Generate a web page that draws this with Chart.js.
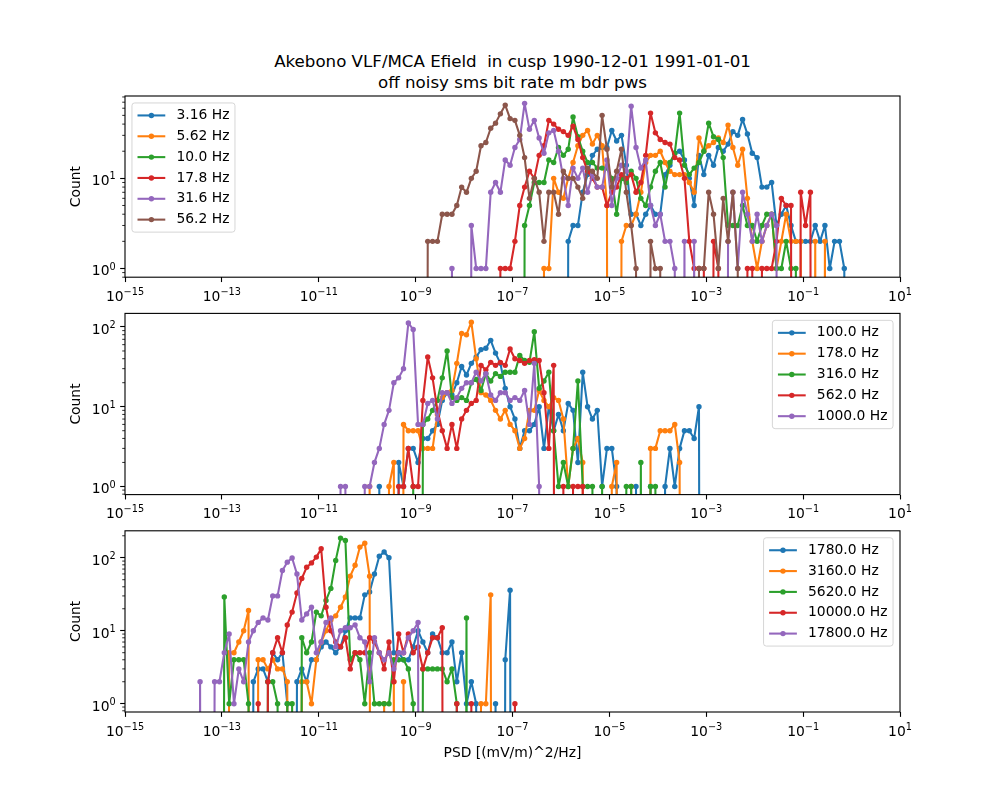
<!DOCTYPE html>
<html>
<head>
<meta charset="utf-8">
<script src="https://cdn.jsdelivr.net/npm/chart.js@4.4.0/dist/chart.umd.min.js"></script>
<style>
html,body{margin:0;padding:0;background:#fff;}
#fig{position:relative;width:1000px;height:800px;background:#fff;overflow:hidden;font-family:'DejaVu Sans';}
#fig canvas{position:absolute;left:0;}
#title{position:absolute;left:125px;width:775px;top:51px;text-align:center;font-family:'DejaVu Sans';font-size:16.67px;line-height:21px;color:#000;white-space:pre;}
</style>
</head>
<body>
<div id="fig">
<div id="title">Akebono VLF/MCA Efield  in cusp 1990-12-01 1991-01-01
off noisy sms bit rate m bdr pws</div>
<canvas id="c1"></canvas>
<canvas id="c2"></canvas>
<canvas id="c3"></canvas>
</div>
<script>
// ---------------- data ----------------
const BIN_DECADES = 0.1;      // width of one PSD histogram bin, in decades
const ZERO_FLOOR = 1e-30;     // empty bins are clipped far below the log axis (as matplotlib does)
const xTickExponents = [-15, -13, -11, -9, -7, -5, -3, -1, 1];
const COLORS = ['#1f77b4', '#ff7f0e', '#2ca02c', '#d62728', '#9467bd', '#8c564b'];

// Panel 1 (log10 of the PSD bin centre of the first value in each list)
const p1Labels = ['3.16 Hz', '5.62 Hz', '10.0 Hz', '17.8 Hz', '31.6 Hz', '56.2 Hz'];
const p1FirstBin = [-5.95, -6.45, -6.85, -7.35, -8.35, -8.85];
const p1_3_16 = [0,2,3,3,7,11,18,21,22,22,34,26,30,14,4,4,3,4,5,4,4,11,14,19,20,16,10,5,18,11,18,14,22,20,24,33,30,45,31,19,17,8,8,9,3,4,5,3,2,2,2,2,3,2,3,1,2,2,1,0];
const p1_5_62 = [0,1,1,10,7,6,10,15,23,30,34,24,30,23,5,0,0,2,3,3,4,7,15,18,18,20,15,12,11,11,11,9,7,28,20,23,25,28,25,39,22,14,21,6,2,1,2,3,4,1,2,4,2,2,2,0,0,2,0,2,0];
const p1_10_0 = [0,3,5,9,9,9,16,15,22,18,21,48,29,20,15,15,13,13,13,10,4,10,9,12,10,6,5,8,12,15,8,15,19,53,14,11,13,15,20,41,29,27,17,3,3,3,5,3,3,2,3,4,4,1,1,2,1,1,0];
const p1_17_8 = [0,1,1,1,2,5,8,12,10,18,23,44,40,35,33,30,38,27,17,12,10,8,8,5,7,8,11,10,11,7,9,18,53,32,27,25,24,17,16,10,2,1,1,1,0,2,1,0,0,0,0,0,1,1,0,1,1,1,2,6,5,5,0,7,3,7,0];
const p1_31_6 = [0,1,0,0,0,3,1,1,1,7,9,7,16,14,22,27,68,35,44,28,19,32,34,20,10,5,13,10,13,7,11,8,8,16,5,10,14,12,63,22,13,16,5,3,4,2,2,1,0,2,0,2,0,0,0,0,0,0,2,7,1,7,4,2,4,2,3,4,3,0];
const p1_56_2 = [0,2,2,2,4,4,4,5,8,7,10,12,23,25,36,41,52,65,46,44,30,17,6,10,7,2,7,7,4,12,10,10,8,6,13,12,10,50,21,8,12,21,7,3,1,0,0,2,1,1,0,0,0,0,0,0,0,1,1,7,4,1,6,2,7,1,0];

// Panel 2
const p2Labels = ['100.0 Hz', '178.0 Hz', '316.0 Hz', '562.0 Hz', '1000.0 Hz'];
const p2FirstBin = [-9.85, -10.05, -9.15, -9.45, -10.65];
const p2_100 = [0,1,0,0,0,2,1,3,3,2,4,4,5,6,12,15,14,20,32,25,35,42,52,54,68,47,35,17,10,7,3,5,5,6,10,3,10,5,8,5,11,9,2,27,10,7,9,1,3,3,1,0,0,0,1,0,0,1,0,0,1,3,1,3,5,5,4,10,0];
const p2_178 = [0,1,0,0,0,1,2,0,6,5,5,5,3,3,3,8,13,15,16,35,83,80,115,40,15,14,12,9,7,9,6,5,3,4,9,9,16,12,10,13,12,7,1,3,4,2,0,0,0,0,0,1,2,0,0,1,0,0,0,3,3,5,5,5,6,2,0];
const p2_316 = [0,1,0,6,7,9,12,23,50,13,12,13,12,20,22,16,26,21,26,24,27,27,27,44,38,36,87,17,21,27,5,1,2,1,3,21,1,1,1,0,1,0,0,0,0,1,1,0,2,0,1,1,0];
const p2_562 = [0,1,1,3,1,1,12,42,23,9,5,3,6,3,7,9,11,12,33,29,36,33,36,33,53,40,38,35,38,39,38,15,3,33,0,1,0,1,1,1,0];
const p2_1000 = [0,1,1,0,0,0,1,1,2,3,6,9,20,23,30,112,93,6,6,11,12,7,15,15,11,13,17,20,20,27,21,26,14,12,15,15,12,13,12,16,6,35,1,0];

// Panel 3
const p3Labels = ['1780.0 Hz', '3160.0 Hz', '5620.0 Hz', '10000.0 Hz', '17800.0 Hz'];
const p3FirstBin = [-12.45, -12.95, -13.05, -12.35, -13.55];
const p3_1780 = [0,2,3,3,2,5,4,5,1,0,2,3,2,4,4,6,7,6,5,6,10,15,15,15,31,34,60,105,120,100,5,5,4,4,6,10,7,5,9,8,5,5,7,2,5,1,2,1,0,0,0,1,0,4,36,0];
const p3_3160 = [0,5,5,7,10,19,0,4,4,3,4,3,3,2,0,0,2,2,1,4,7,10,14,16,21,29,56,79,140,158,56,0,0,1,0,2,0,2, 0,0,0,0,0, 0,0,0,0,0, 0,0,0,0,0, 1,1,31,0];
const p3_5620 = [0,29,1,4,4,4,1,0,0,0,2,2,1,0,1,1,0,8,5,7,18,16,26,38,92,186,172,4,5,4,1,5,1,1,1,1,4,4,4,3,1,0,3,3,3,3,3,2,3,1,0,15,0];
const p3_10000 = [0,1,0,2,5,8,5,12,18,33,52,74,85,102,133,21,10,7,6,8,3,5,5,5,8,7,5,3,7,2,9,5,9,5,6,3,5,8,8,11,0,0,1,0,0,1,0,0,0,0,0,0,0,0,1,0];
const p3_17800 = [0,2,0,0,2,2,5,9,1,3,2,7,10,13,15,14,30,30,67,87,99,60,14,17,21,5,7,13,15,6,10,11,11,12,8,7,2,8,5,4,5,3,5,5,8,10,13,0];

// ---------------- rendering ----------------
const FONT = 'DejaVu Sans';
const FS = 13.89;

function makeDatasets(labels, firstBins, seriesList) {
  return seriesList.map((counts, k) => ({
    label: labels[k],
    data: counts.map((c, i) => ({ x: Math.pow(10, firstBins[k] + BIN_DECADES * i), y: c > 0 ? c : ZERO_FLOOR })),
    borderColor: COLORS[k],
    backgroundColor: COLORS[k],
    pointBackgroundColor: COLORS[k],
    borderWidth: 2.08,
    borderJoinStyle: 'round',
    borderCapStyle: 'round',
    pointRadius: ctx => (ctx.raw && ctx.raw.y >= 1 ? 2.7 : 0),
    pointBorderWidth: 0,
    pointHoverRadius: 0,
    tension: 0,
    fill: false,
    order: seriesList.length - k
  }));
}

// "10" with a raised, smaller exponent (mathtext-like); y is the baseline of "10"
function drawPowLabel(ctx, value, x, y, align) {
  const e = Math.round(Math.log10(value));
  const base = '10';
  const expo = String(e).replace('-', '\u2212');
  ctx.font = FS + 'px "' + FONT + '"';
  const wb = ctx.measureText(base).width;
  ctx.font = (FS * 0.7) + 'px "' + FONT + '"';
  const we = ctx.measureText(expo).width;
  const total = wb + we;
  const x0 = align === 'center' ? x - total / 2 : x - total;
  ctx.textAlign = 'left';
  ctx.textBaseline = 'alphabetic';
  ctx.fillStyle = '#000';
  ctx.font = FS + 'px "' + FONT + '"';
  ctx.fillText(base, x0, y);
  ctx.font = (FS * 0.7) + 'px "' + FONT + '"';
  ctx.fillText(expo, x0 + wb, y - 0.425 * FS);
}

function roundRectPath(ctx, x, y, w, h, r) {
  ctx.beginPath();
  ctx.moveTo(x + r, y);
  ctx.lineTo(x + w - r, y);
  ctx.arcTo(x + w, y, x + w, y + r, r);
  ctx.lineTo(x + w, y + h - r);
  ctx.arcTo(x + w, y + h, x + w - r, y + h, r);
  ctx.lineTo(x + r, y + h);
  ctx.arcTo(x, y + h, x, y + h - r, r);
  ctx.lineTo(x, y + r);
  ctx.arcTo(x, y, x + r, y, r);
  ctx.closePath();
}

const framePlugin = {
  id: 'mplFrame',
  afterDatasetsDraw(chart) {
    const ctx = chart.ctx, ca = chart.chartArea, ys = chart.scales.y, xs = chart.scales.x;
    ctx.save();
    // minor ticks on the log y axis
    ctx.strokeStyle = '#000';
    ctx.lineWidth = 0.83;
    for (let d = -1; d <= 3; d++) {
      for (let m = 2; m <= 9; m++) {
        const v = m * Math.pow(10, d);
        if (v < ys.min || v > ys.max) continue;
        const py = ys.getPixelForValue(v);
        ctx.beginPath();
        ctx.moveTo(ca.left, py);
        ctx.lineTo(ca.left - 2.78, py);
        ctx.stroke();
      }
    }
    // spines
    ctx.lineWidth = 1.11;
    ctx.strokeRect(ca.left, ca.top, ca.right - ca.left, ca.bottom - ca.top);
    // tick labels, placed from the scales' own ticks
    xs.ticks.forEach(t => drawPowLabel(ctx, t.value, xs.getPixelForValue(t.value), ca.bottom + 23.7, 'center'));
    ys.ticks.forEach(t => drawPowLabel(ctx, t.value, ca.left - 9.3, ys.getPixelForValue(t.value) + 7, 'right'));
    ctx.restore();
  }
};

const legendPlugin = {
  id: 'mplLegend',
  afterDraw(chart, args, opts) {
    const ctx = chart.ctx, ca = chart.chartArea, ds = chart.data.datasets;
    ctx.save();
    ctx.font = FS + 'px "' + FONT + '"';
    const tw = Math.max(...ds.map(d => ctx.measureText(d.label).width));
    const pad = 0.4 * FS, hl = 2 * FS, htp = 0.8 * FS, ls = 0.5 * FS, bap = 0.5 * FS;
    const w = pad + hl + htp + tw + pad;
    const h = 2 * pad + ds.length * FS + (ds.length - 1) * ls;
    const x0 = opts.loc === 'upper left' ? ca.left + bap : ca.right - bap - w;
    const y0 = ca.top + bap;
    roundRectPath(ctx, x0, y0, w, h, 0.2 * FS);
    ctx.fillStyle = 'rgba(255,255,255,0.8)';
    ctx.fill();
    ctx.strokeStyle = 'rgba(204,204,204,0.8)';
    ctx.lineWidth = 1;
    ctx.stroke();
    ds.forEach((d, i) => {
      const cy = y0 + pad + FS / 2 + i * (FS + ls);
      ctx.strokeStyle = d.borderColor;
      ctx.lineWidth = 2.08;
      ctx.beginPath();
      ctx.moveTo(x0 + pad, cy);
      ctx.lineTo(x0 + pad + hl, cy);
      ctx.stroke();
      ctx.fillStyle = d.borderColor;
      ctx.beginPath();
      ctx.arc(x0 + pad + hl / 2, cy, 2.7, 0, 2 * Math.PI);
      ctx.fill();
      ctx.fillStyle = '#000';
      ctx.textAlign = 'left';
      ctx.textBaseline = 'middle';
      ctx.fillText(d.label, x0 + pad + hl + htp, cy);
    });
    ctx.restore();
  }
};

const panels = [
  { id: 'c1', labels: p1Labels, first: p1FirstBin, series: [p1_3_16, p1_5_62, p1_10_0, p1_17_8, p1_31_6, p1_56_2],
    yMin: 0.8, yMax: 82, yTicks: [1, 10], loc: 'upper left', top: 82, padTop: 14, height: 232, xTitle: '' },
  { id: 'c2', labels: p2Labels, first: p2FirstBin, series: [p2_100, p2_178, p2_316, p2_562, p2_1000],
    yMin: 0.79, yMax: 148, yTicks: [1, 10, 100], loc: 'upper right', top: 299, padTop: 14.4, height: 232, xTitle: '' },
  { id: 'c3', labels: p3Labels, first: p3FirstBin, series: [p3_1780, p3_3160, p3_5620, p3_10000, p3_17800],
    yMin: 0.77, yMax: 234, yTicks: [1, 10, 100], loc: 'upper right', top: 517, padTop: 13.8, height: 249, xTitle: 'PSD [(mV/m)^2/Hz]' }
];

const AXIS_H = 181.2;
const tickFont = { family: FONT, size: FS };

panels.forEach(p => {
  const cv = document.getElementById(p.id);
  cv.width = 1000;
  cv.height = p.height;
  cv.style.top = p.top + 'px';
  const xH = p.height - p.padTop - AXIS_H;
  new Chart(cv.getContext('2d'), {
    type: 'line',
    data: { datasets: makeDatasets(p.labels, p.first, p.series) },
    plugins: [framePlugin, legendPlugin],
    options: {
      responsive: false,
      devicePixelRatio: 1,
      animation: false,
      events: [],
      layout: { autoPadding: false, padding: { left: 64, right: 100, top: p.padTop, bottom: 0 } },
      plugins: {
        legend: { display: false },
        tooltip: { enabled: false },
        mplLegend: { loc: p.loc }
      },
      scales: {
        x: {
          type: 'logarithmic',
          position: 'bottom',
          min: 1e-15,
          max: 10,
          afterBuildTicks: s => { s.ticks = xTickExponents.map(e => ({ value: Math.pow(10, e) })); },
          afterFit: s => { s.height = xH; },
          ticks: { display: false, autoSkip: false, maxRotation: 0, minRotation: 0 },
          grid: { display: true, drawOnChartArea: false, drawTicks: true, tickLength: 4.86, tickWidth: 1.11, tickColor: '#000' },
          border: { display: false },
          title: { display: !!p.xTitle, text: p.xTitle, font: tickFont, color: '#000', padding: { top: 4, bottom: 4 } }
        },
        y: {
          type: 'logarithmic',
          position: 'left',
          min: p.yMin,
          max: p.yMax,
          afterBuildTicks: s => { s.ticks = p.yTicks.map(v => ({ value: v })); },
          afterFit: s => { s.width = 61; },
          ticks: { display: false },
          grid: { display: true, drawOnChartArea: false, drawTicks: true, tickLength: 4.86, tickWidth: 1.11, tickColor: '#000' },
          border: { display: false },
          title: { display: true, text: 'Count', font: tickFont, color: '#000', padding: { top: 4, bottom: 4 } }
        }
      }
    }
  });
});
</script>
</body>
</html>
